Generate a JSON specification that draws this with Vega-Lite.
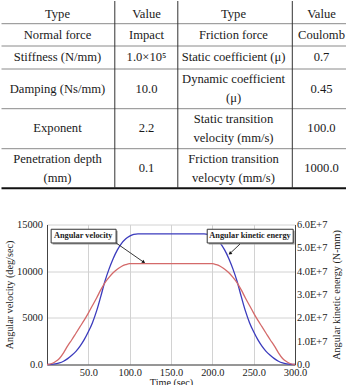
{
  "$schema": "https://vega.github.io/schema/vega-lite/v6.json",
  "padding": 0,
  "background": "white",
  "spacing": 29.5,
  "datasets": {
    "cells": [
      {"row": 0, "col": 0, "label": "Type"},
      {"row": 0, "col": 1, "label": "Value"},
      {"row": 0, "col": 2, "label": "Type"},
      {"row": 0, "col": 3, "label": "Value"},
      {"row": 1, "col": 0, "label": "Normal force"},
      {"row": 1, "col": 1, "label": "Impact"},
      {"row": 1, "col": 2, "label": "Friction force"},
      {"row": 1, "col": 3, "label": "Coulomb"},
      {"row": 2, "col": 0, "label": "Stiffness (N/mm)"},
      {"row": 2, "col": 1, "label": "1.0×10⁵"},
      {"row": 2, "col": 2, "label": "Static coefficient (μ)"},
      {"row": 2, "col": 3, "label": "0.7"},
      {"row": 3, "col": 0, "label": "Damping (Ns/mm)"},
      {"row": 3, "col": 1, "label": "10.0"},
      {"row": 3, "col": 2, "label": "Dynamic coefficient\n(μ)"},
      {"row": 3, "col": 3, "label": "0.45"},
      {"row": 4, "col": 0, "label": "Exponent"},
      {"row": 4, "col": 1, "label": "2.2"},
      {"row": 4, "col": 2, "label": "Static transition\nvelocity (mm/s)"},
      {"row": 4, "col": 3, "label": "100.0"},
      {"row": 5, "col": 0, "label": "Penetration depth\n(mm)"},
      {"row": 5, "col": 1, "label": "0.1"},
      {"row": 5, "col": 2, "label": "Friction transition\nvelocyty (mm/s)"},
      {"row": 5, "col": 3, "label": "1000.0"}
    ],
    "velocity": [
      {"t": 0, "omega": 0}, {"t": 5, "omega": 80}, {"t": 10, "omega": 300}, {"t": 15, "omega": 640},
      {"t": 20, "omega": 1250}, {"t": 25, "omega": 2000}, {"t": 30, "omega": 2650}, {"t": 35, "omega": 3350},
      {"t": 40, "omega": 4050}, {"t": 45, "omega": 4750}, {"t": 50, "omega": 5510}, {"t": 55, "omega": 6320},
      {"t": 60, "omega": 7130}, {"t": 65, "omega": 7990}, {"t": 70, "omega": 8750}, {"t": 75, "omega": 9340},
      {"t": 80, "omega": 9830}, {"t": 85, "omega": 10210}, {"t": 90, "omega": 10500}, {"t": 95, "omega": 10690},
      {"t": 100, "omega": 10800}, {"t": 150, "omega": 10800}, {"t": 200, "omega": 10800},
      {"t": 205, "omega": 10690}, {"t": 210, "omega": 10500}, {"t": 215, "omega": 10210}, {"t": 220, "omega": 9830},
      {"t": 225, "omega": 9340}, {"t": 230, "omega": 8750}, {"t": 235, "omega": 7990}, {"t": 240, "omega": 7130},
      {"t": 245, "omega": 6320}, {"t": 250, "omega": 5510}, {"t": 255, "omega": 4750}, {"t": 260, "omega": 4050},
      {"t": 265, "omega": 3350}, {"t": 270, "omega": 2650}, {"t": 275, "omega": 2000}, {"t": 280, "omega": 1250},
      {"t": 285, "omega": 640}, {"t": 290, "omega": 300}, {"t": 295, "omega": 80}, {"t": 300, "omega": 0}
    ],
    "energy": [
      {"t": 0, "ke": 0}, {"t": 5, "ke": 56000}, {"t": 10, "ke": 280000}, {"t": 15, "ke": 672000},
      {"t": 20, "ke": 1400000}, {"t": 25, "ke": 2520000}, {"t": 30, "ke": 3920000}, {"t": 35, "ke": 5600000},
      {"t": 40, "ke": 7840000}, {"t": 45, "ke": 10640000}, {"t": 50, "ke": 14000000}, {"t": 55, "ke": 17920000},
      {"t": 60, "ke": 22960000}, {"t": 65, "ke": 29120000}, {"t": 70, "ke": 35560000}, {"t": 75, "ke": 40880000},
      {"t": 80, "ke": 45360000}, {"t": 85, "ke": 49000000}, {"t": 90, "ke": 51800000}, {"t": 95, "ke": 53760000},
      {"t": 100, "ke": 54990000}, {"t": 105, "ke": 55720000}, {"t": 110, "ke": 56000000}, {"t": 150, "ke": 56000000},
      {"t": 190, "ke": 56000000}, {"t": 195, "ke": 55720000}, {"t": 200, "ke": 54990000}, {"t": 205, "ke": 53760000},
      {"t": 210, "ke": 51800000}, {"t": 215, "ke": 49000000}, {"t": 220, "ke": 45360000}, {"t": 225, "ke": 40880000},
      {"t": 230, "ke": 35560000}, {"t": 235, "ke": 29120000}, {"t": 240, "ke": 22960000}, {"t": 245, "ke": 17920000},
      {"t": 250, "ke": 14000000}, {"t": 255, "ke": 10640000}, {"t": 260, "ke": 7840000}, {"t": 265, "ke": 5600000},
      {"t": 270, "ke": 3920000}, {"t": 275, "ke": 2520000}, {"t": 280, "ke": 1400000}, {"t": 285, "ke": 672000},
      {"t": 290, "ke": 280000}, {"t": 295, "ke": 56000}, {"t": 300, "ke": 0}
    ],
    "callouts": [
      {"name": "Angular velocity", "t_left": 5, "t_right": 83.6, "v_low": 13020, "v_high": 14490, "t_mid": 43.8, "v_mid": 13755,
       "t_tail": 83.6, "v_tail": 13020, "t_tip": 117, "v_tip": 10960},
      {"name": "Angular kinetic energy", "t_left": 193.8, "t_right": 297.8, "v_low": 13020, "v_high": 14490, "t_mid": 245.6, "v_mid": 13755,
       "t_tail": 233.4, "v_tail": 12900, "t_tip": 221.3, "v_tip": 11890}
    ]
  },
  "vconcat": [
    {
      "width": 248,
      "height": 187.3,
      "layer": [
        {
          "layer": [
            {
              "data": {"values": [{"edge": 1}, {"edge": 2}, {"edge": 3}, {"edge": 4}, {"edge": 5}]},
              "mark": {"type": "rule", "color": "#8a8a8a", "strokeWidth": 1},
              "encoding": {
                "y": {"field": "edge", "type": "quantitative", "axis": null,
                      "scale": {"domain": [0, 1, 2, 3, 4, 5, 6], "range": [0, 22.7, 45, 68, 107.7, 147.7, 187.3], "nice": false, "zero": false}},
                "x": {"datum": 0, "type": "quantitative", "axis": null,
                      "scale": {"domain": [0, 1, 2, 3, 4], "range": [-45.5, 67.8, 130.8, 245.3, 300.5], "nice": false, "zero": false}},
                "x2": {"datum": 4}
              }
            },
            {
              "data": {"values": [{"edge": 6}]},
              "mark": {"type": "rule", "color": "#111111", "strokeWidth": 2},
              "encoding": {
                "y": {"field": "edge", "type": "quantitative", "axis": null},
                "x": {"datum": 0, "type": "quantitative", "axis": null},
                "x2": {"datum": 4}
              }
            },
            {
              "data": {"values": [{"edge": 1}, {"edge": 2}, {"edge": 3}]},
              "mark": {"type": "rule", "color": "#333333", "strokeWidth": 1},
              "encoding": {
                "x": {"field": "edge", "type": "quantitative", "axis": null},
                "y": {"datum": 0, "type": "quantitative", "axis": null},
                "y2": {"datum": 6}
              }
            }
          ]
        },
        {
          "layer": [
            {
              "data": {"name": "cells"},
              "transform": [{"filter": "indexof(datum.label, '\\n') < 0"}],
              "mark": {"type": "text", "font": "Liberation Serif, Times New Roman, Tinos, DejaVu Serif, serif", "fontSize": 12.6, "color": "#1a1a1a",
                       "align": "center", "baseline": "middle"},
              "encoding": {
                "x": {"field": "col", "type": "quantitative", "axis": null,
                      "scale": {"domain": [0, 1, 2, 3], "range": [10.5, 99.5, 186.5, 274.5], "nice": false, "zero": false}},
                "y": {"field": "row", "type": "quantitative", "axis": null,
                      "scale": {"domain": [0, 1, 2, 3, 4, 5], "range": [12.5, 33.5, 56, 87.5, 127, 167], "nice": false, "zero": false}},
                "text": {"field": "label"}
              }
            },
            {
              "data": {"name": "cells"},
              "transform": [{"filter": "indexof(datum.label, '\\n') >= 0"}],
              "mark": {"type": "text", "font": "Liberation Serif, Times New Roman, Tinos, DejaVu Serif, serif", "fontSize": 12.6, "color": "#1a1a1a",
                       "lineBreak": "\n", "lineHeight": 19, "align": "center", "baseline": "middle", "dy": -9.5},
              "encoding": {
                "x": {"field": "col", "type": "quantitative", "axis": null},
                "y": {"field": "row", "type": "quantitative", "axis": null},
                "text": {"field": "label"}
              }
            }
          ]
        }
      ],
      "resolve": {"scale": {"x": "independent", "y": "independent"}}
    },
    {
      "width": 248,
      "height": 140,
      "layer": [
        {
          "data": {"name": "energy"},
          "mark": {"type": "line", "color": "#3b3bbd", "strokeWidth": 1.3, "interpolate": "monotone"},
          "encoding": {
            "x": {"field": "t", "type": "quantitative", "scale": {"domain": [0, 300], "nice": false}},
            "y": {"field": "ke", "type": "quantitative",
                  "scale": {"domain": [0, 60000000], "nice": false},
                  "axis": {"orient": "right", "values": [0, 10000000, 20000000, 30000000, 40000000, 50000000, 60000000],
                           "labelExpr": "datum.value == 0 ? '0.0' : format(datum.value / 10000000, '.1f') + 'E+7'",
                           "grid": false, "title": "Angular kinetic energy (N-mm)", "titleAngle": 270, "titleBaseline": "top",
                           "labelPadding": 1.5, "titlePadding": 5}}
          }
        },
        {
          "layer": [
            {
              "data": {"name": "velocity"},
              "mark": {"type": "line", "color": "#d46a6a", "strokeWidth": 1.3, "interpolate": "monotone"},
              "encoding": {
                "x": {"field": "t", "type": "quantitative", "scale": {"domain": [0, 300], "nice": false},
                      "axis": {"values": [0, 25, 50, 75, 100, 125, 150, 175, 200, 225, 250, 275, 300],
                               "labelExpr": "datum.value > 0 && datum.value % 50 == 0 ? format(datum.value, '.1f') : ''",
                               "labelFlush": false, "grid": true, "title": "Time (sec)", "labelPadding": 2.5, "titlePadding": 0}},
                "y": {"field": "omega", "type": "quantitative", "scale": {"domain": [0, 15000], "nice": false},
                      "axis": {"orient": "left", "values": [0, 2500, 5000, 7500, 10000, 12500, 15000],
                               "labelExpr": "datum.value == 0 ? '0.0' : (datum.value % 5000 == 0 ? format(datum.value, 'd') : '')",
                               "grid": true, "title": "Angular velocity (deg/sec)", "labelPadding": 4.5, "titlePadding": 2}}
              }
            },
            {
              "data": {"name": "callouts"},
              "mark": {"type": "rect", "color": "#9a9a9a", "xOffset": 1.5, "x2Offset": 1.5, "yOffset": 1.5, "y2Offset": 1.5},
              "encoding": {
                "x": {"field": "t_left", "type": "quantitative"},
                "x2": {"field": "t_right"},
                "y": {"field": "v_low", "type": "quantitative"},
                "y2": {"field": "v_high"}
              }
            },
            {
              "data": {"name": "callouts"},
              "mark": {"type": "rect", "fill": "white", "stroke": "#333333", "strokeWidth": 1},
              "encoding": {
                "x": {"field": "t_left", "type": "quantitative"},
                "x2": {"field": "t_right"},
                "y": {"field": "v_low", "type": "quantitative"},
                "y2": {"field": "v_high"}
              }
            },
            {
              "data": {"name": "callouts"},
              "mark": {"type": "text", "font": "Liberation Serif, Times New Roman, Tinos, DejaVu Serif, serif", "fontSize": 8.3, "fontWeight": "bold", "color": "#222222", "baseline": "middle"},
              "encoding": {
                "x": {"field": "t_mid", "type": "quantitative"},
                "y": {"field": "v_mid", "type": "quantitative"},
                "text": {"field": "name"}
              }
            },
            {
              "data": {"name": "callouts"},
              "mark": {"type": "rule", "color": "#222222", "strokeWidth": 0.9},
              "encoding": {
                "x": {"field": "t_tail", "type": "quantitative"},
                "x2": {"field": "t_tip"},
                "y": {"field": "v_tail", "type": "quantitative"},
                "y2": {"field": "v_tip"}
              }
            },
            {
              "data": {"name": "callouts"},
              "transform": [{"filter": "datum.name == 'Angular velocity'"}],
              "mark": {"type": "point", "shape": "triangle-right", "filled": true, "color": "#111111", "size": 14, "opacity": 1, "angle": 34},
              "encoding": {
                "x": {"field": "t_tip", "type": "quantitative"},
                "y": {"field": "v_tip", "type": "quantitative"}
              }
            },
            {
              "data": {"name": "callouts"},
              "transform": [{"filter": "datum.name == 'Angular kinetic energy'"}],
              "mark": {"type": "point", "shape": "triangle-right", "filled": true, "color": "#111111", "size": 14, "opacity": 1, "angle": 140},
              "encoding": {
                "x": {"field": "t_tip", "type": "quantitative"},
                "y": {"field": "v_tip", "type": "quantitative"}
              }
            }
          ]
        }
      ],
      "resolve": {"scale": {"y": "independent"}}
    }
  ],
  "config": {
    "view": {"stroke": null},
    "axis": {
      "labelFont": "Liberation Serif, Times New Roman, Tinos, DejaVu Serif, serif",
      "titleFont": "Liberation Serif, Times New Roman, Tinos, DejaVu Serif, serif",
      "labelFontSize": 10.4,
      "titleFontSize": 10.2,
      "titleFontWeight": "normal",
      "labelColor": "#222222",
      "titleColor": "#222222",
      "gridColor": "#d2d2d2",
      "gridWidth": 1,
      "domainColor": "#444444",
      "ticks": false
    }
  }
}
